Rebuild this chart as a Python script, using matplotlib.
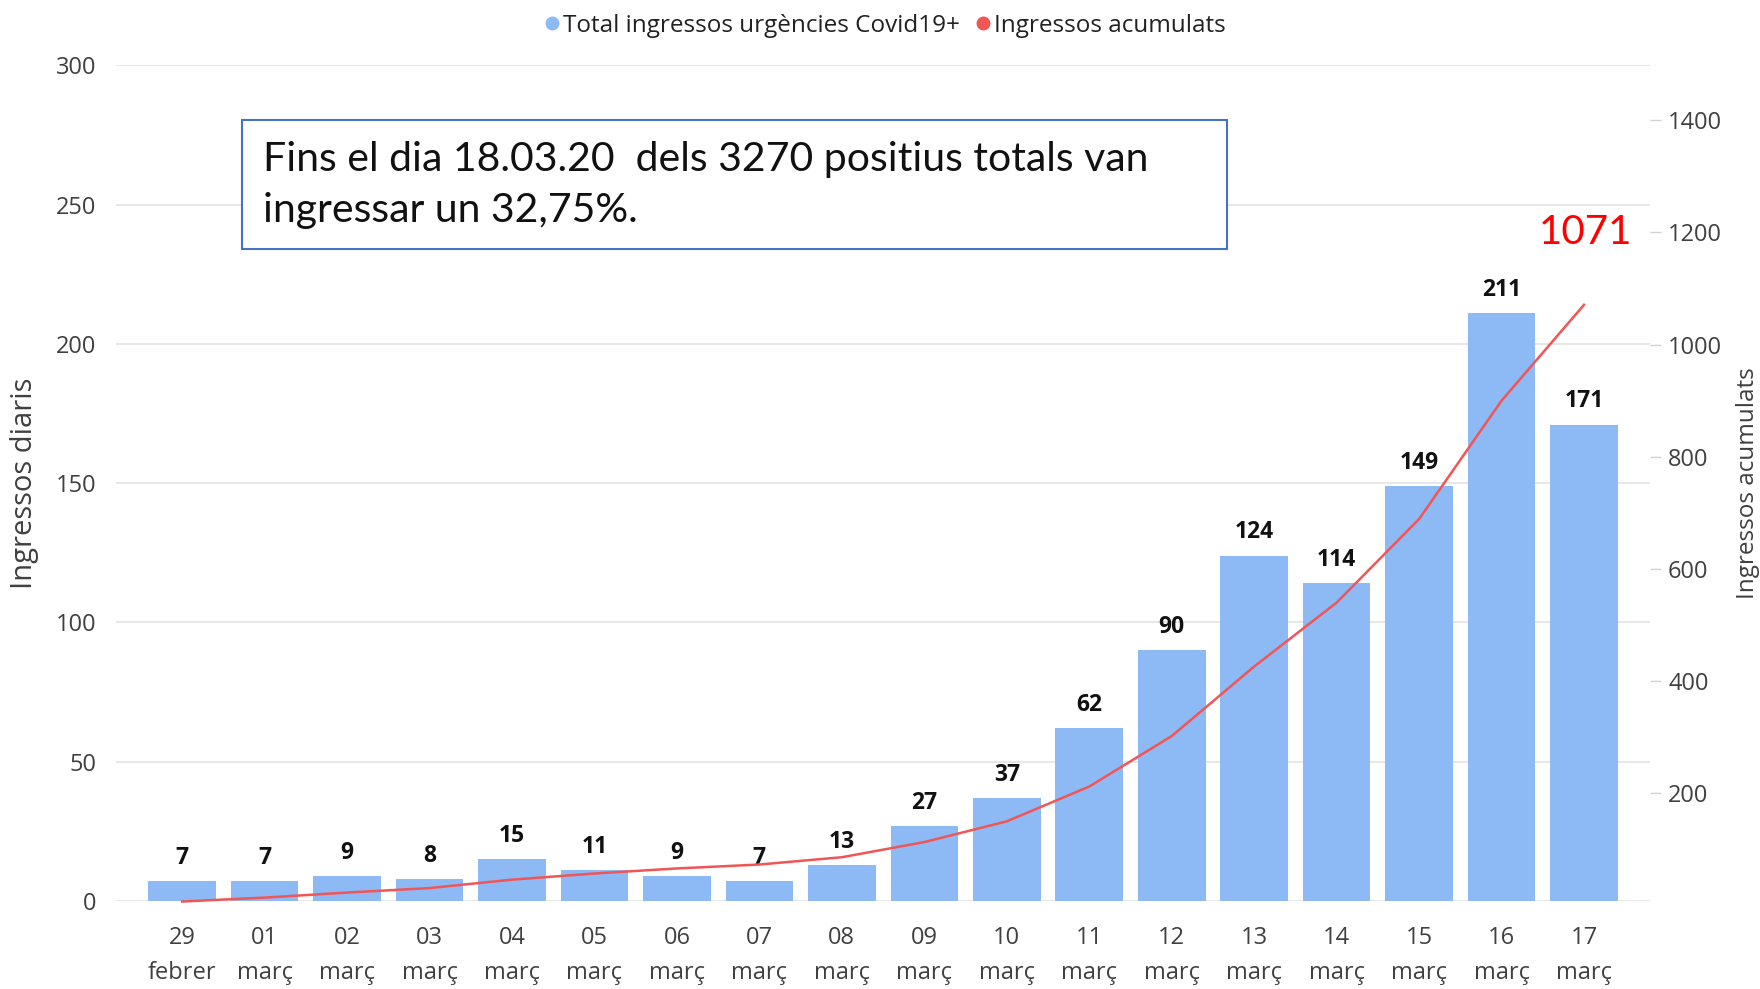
import matplotlib.pyplot as plt
from matplotlib.lines import Line2D
from matplotlib.patches import Rectangle
import numpy as np

days = ["29", "01", "02", "03", "04", "05", "06", "07", "08",
        "09", "10", "11", "12", "13", "14", "15", "16", "17"]
months = ["febrer"] + ["març"] * 17
daily = [7, 7, 9, 8, 15, 11, 9, 7, 13, 27, 37, 62, 90, 124, 114, 149, 211, 171]
cumulative = [7, 14, 23, 31, 46, 57, 66, 73, 86, 113, 150, 212, 302, 426, 540, 689, 900, 1071]

bar_color = "#8DB9F5"
line_color = "#F25555"
txt_color = "#404040"

plt.rcParams['font.family'] = ['Open Sans', 'DejaVu Sans']

fig = plt.figure(figsize=(17.6, 9.89), dpi=100)
ax = fig.add_axes([0.066, 0.089, 0.8715, 0.845])
ax2 = ax.twinx()

x = np.arange(len(days))
ax.bar(x, daily, width=0.82, color=bar_color, zorder=2)
for xi, v in zip(x, daily):
    ax.text(xi, v + 4, str(v), ha="center", va="bottom", fontsize=16.5,
            fontweight="bold", color="#111111")

ax2.plot(x, cumulative, color=line_color, lw=1.8, zorder=3, clip_on=False)

ax.set_xlim(-0.8, 17.8)
ax.set_ylim(0, 300)
ax.set_yticks(range(0, 301, 50))
ax.grid(axis="y", color="#E3E3E3", lw=1.2, zorder=0)
ax.set_xticks(x)
ax.set_xticklabels([f"{d}\n{m}" for d, m in zip(days, months)],
                   fontsize=17, color=txt_color, linespacing=1.6)
ax.tick_params(axis="x", length=0, pad=18)
ax.tick_params(axis="y", length=0, pad=14, labelsize=17, labelcolor=txt_color)
ax.set_ylabel("Ingressos diaris", fontsize=21, color=txt_color)
ax.yaxis.set_label_coords(-0.05, 0.5)

ax2.set_ylim(8, 1498)
ax2.set_yticks(range(200, 1401, 200))
ax2.tick_params(axis="y", length=8, width=1, color="#D0D0D0", pad=5,
                labelsize=17, labelcolor=txt_color)
ax2.set_ylabel("Ingressos acumulats", fontsize=17.5, color=txt_color)
ax2.yaxis.set_label_coords(1.056, 0.5)

for a in (ax, ax2):
    for s in a.spines.values():
        s.set_visible(False)

ax2.text(17.58, 1200, "1071", color="#FF0000", fontsize=29,
         family=["Lato", "DejaVu Sans"], ha="right", va="center")

# annotation box
fig.patches.append(Rectangle((0.1375, 0.7482), 0.5597, 0.1305, transform=fig.transFigure,
                             fc="white", ec="#4472C4", lw=1.5, zorder=5))
fig.text(0.1494, 0.813, "Fins el dia 18.03.20  dels 3270 positius totals van\ningressar un 32,75%.",
         fontsize=29.5, family=["Lato", "DejaVu Sans"], color="#111111",
         va="center", ha="left", linespacing=1.45, zorder=6)

handles = [Line2D([], [], marker="o", ls="", color=bar_color, markersize=9),
           Line2D([], [], marker="o", ls="", color=line_color, markersize=9)]
fig.legend(handles, ["Total ingressos urgències Covid19+", "Ingressos acumulats"],
           loc="upper center", bbox_to_anchor=(0.502, 1.008), ncol=2, frameon=False,
           fontsize=17.5, handletextpad=0.0, handlelength=0.9, columnspacing=0.5,
           labelcolor="#222222")

fig.savefig("out.png", dpi=100)
